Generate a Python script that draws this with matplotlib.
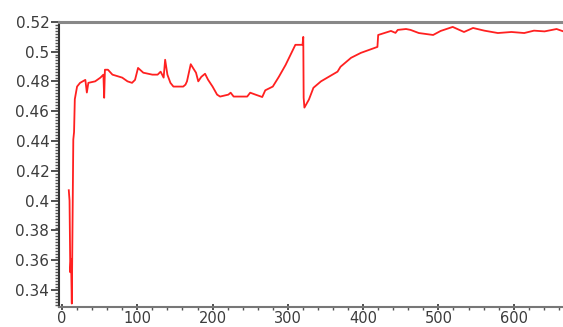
import matplotlib
matplotlib.use("Agg")
import matplotlib.pyplot as plt
from matplotlib.ticker import MultipleLocator

x_vals = [9, 10, 11, 12, 13, 15, 16, 17, 20, 24, 31, 33, 35, 44, 51, 55, 56, 57, 61, 67,
          80, 87, 93, 97, 101, 108, 120, 127, 131, 135, 137, 140, 144, 148, 161, 164,
          166, 171, 174, 178, 181, 185, 190, 194, 200, 206, 210, 221, 224, 228, 246,
          250, 257, 266, 270, 280, 288, 297, 310, 319.5, 320.5, 321, 322, 328, 334, 344,
          366, 370, 384, 397, 419, 420, 437, 443, 446, 457, 463, 474, 493, 503, 519,
          534, 546, 561, 579, 597, 614, 627, 641, 657, 666]
y_vals = [0.407, 0.400, 0.352, 0.361, 0.331, 0.441, 0.446, 0.468, 0.4765, 0.479, 0.481,
          0.4725, 0.479, 0.480, 0.4825, 0.4845, 0.469, 0.4878, 0.4878, 0.4845,
          0.4825, 0.480, 0.479, 0.481, 0.489, 0.4858, 0.4845, 0.4845, 0.4865, 0.4825,
          0.4945, 0.4845, 0.479, 0.4765, 0.4765, 0.4778,
          0.480, 0.4915, 0.489, 0.4858, 0.480, 0.483, 0.4851, 0.4811, 0.4765, 0.4711,
          0.4698, 0.4711, 0.4724, 0.4698, 0.4698,
          0.4724, 0.4711, 0.4695, 0.474, 0.4765, 0.483, 0.491, 0.5045, 0.5045, 0.5098,
          0.469, 0.4624, 0.4678, 0.4757, 0.480,
          0.4865, 0.4898, 0.4958, 0.4991, 0.5031, 0.5111, 0.5138, 0.5125, 0.5145,
          0.5151, 0.5145, 0.5124, 0.5111, 0.5138, 0.5165,
          0.5131, 0.5158, 0.514, 0.5124, 0.5131, 0.5124, 0.514, 0.5135, 0.5151, 0.5135]

x_ticks = [0, 100, 200, 300, 400, 500, 600]
x_tick_labels = ["0", "100", "200", "300", "400", "500", "600"]
y_ticks = [0.34, 0.36, 0.38, 0.40, 0.42, 0.44, 0.46, 0.48, 0.50, 0.52]
y_tick_labels = ["0.34", "0.36", "0.38", "0.4", "0.42", "0.44", "0.46", "0.48", "0.5", "0.52"]

fig = plt.figure(figsize=(5.63, 3.27), dpi=100)
ax = fig.add_axes([59 / 563, 1 - 307 / 327, 1 - 59 / 563 + 0.01, (307 - 21.7) / 327])

ax.plot(x_vals, y_vals, color="#ff2020", linewidth=1.3)

ax.set_xlim(-4, 673)
ax.set_ylim(0.3287, 0.52)

ax.set_xticks(x_ticks)
ax.set_xticklabels(x_tick_labels)
ax.set_yticks(y_ticks)
ax.set_yticklabels(y_tick_labels)
ax.xaxis.set_minor_locator(MultipleLocator(20))
ax.yaxis.set_minor_locator(MultipleLocator(0.002))

for lab in ax.get_yticklabels():
    lab.set_fontfamily("DejaVu Sans")
    lab.set_fontsize(11)
    lab.set_color("#3c3c3c")
for lab in ax.get_xticklabels():
    lab.set_fontfamily("DejaVu Sans")
    lab.set_fontsize(10.5)
    lab.set_color("#3c3c3c")

ax.tick_params(axis="y", which="major", direction="out", length=6, width=1.2,
               color="#333333", pad=1)
ax.tick_params(axis="y", which="minor", direction="out", length=3, width=1.0,
               color="#555555")
ax.tick_params(axis="x", which="major", direction="inout", length=5, width=1.2,
               color="#333333", pad=0.5)
ax.tick_params(axis="x", which="minor", direction="out", length=2, width=1.0,
               color="#555555")

ax.spines["right"].set_visible(False)
ax.spines["left"].set_color("#333333")
ax.spines["left"].set_linewidth(1.5)
ax.spines["bottom"].set_color("#777777")
ax.spines["bottom"].set_linewidth(1.5)
ax.spines["top"].set_color("#888888")
ax.spines["top"].set_linewidth(2.2)

fig.savefig("out.png", dpi=100)
